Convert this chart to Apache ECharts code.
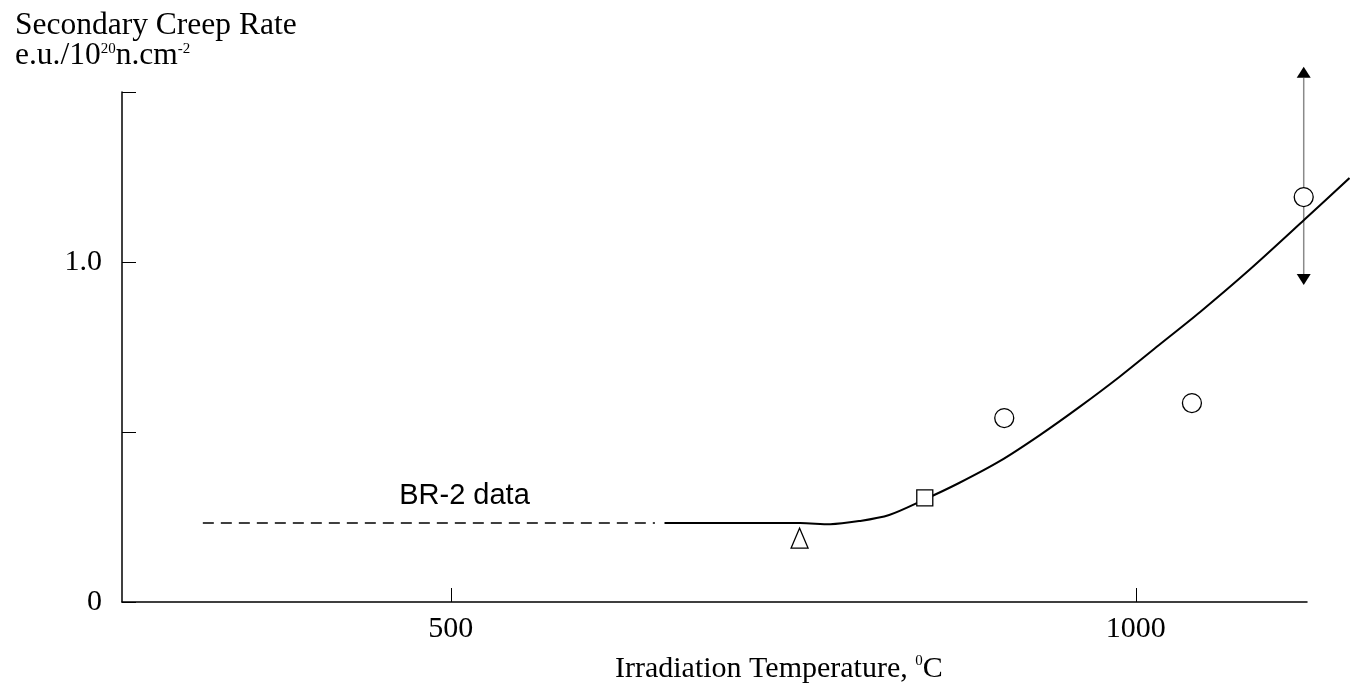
<!DOCTYPE html>
<html>
<head>
<meta charset="utf-8">
<script src="https://cdn.jsdelivr.net/npm/echarts@6/dist/echarts.min.js"></script>
<style>
html,body{margin:0;padding:0;background:#fff;}
#chart{width:1350px;height:688px;}
</style>
</head>
<body>
<div id="chart"></div>
<script>
// ---- data ----
const xTickValues = [500, 1000];
const yTickLabels = {0: '0', 1: '1.0'};
const br2Dashed = [[319, 0.232], [649, 0.232]];
const fitCurve = [
  [656, 0.232], [755, 0.232], [777, 0.229], [798, 0.238], [820, 0.256],
  [845, 0.300], [871, 0.350], [901, 0.415], [930, 0.491], [959, 0.574],
  [988, 0.662], [1017, 0.756], [1047, 0.853], [1083, 0.977], [1123, 1.124],
  [1156, 1.247]
];
const triangleData = [[754.6, 0.188]];
const squareData = [[846, 0.306]];
const circleData = [[904, 0.541], [1041, 0.585], [1122.6, 1.191]];
const errorBar = [[1122.6, 0.932, 1.574]];
const annotations = [[510, 0.312, 'BR-2 data']];

const serif = 'Liberation Serif';
const sans = 'Liberation Sans';

// axis scale
const X_MIN = 260, X_MAX = 1125, Y_MIN = 0, Y_MAX = 1.5;
const W = 1350, GL = 122, GR = 43;
// a second, hidden axis with identical scale that reaches the right edge of the canvas
const X_MAX_WIDE = X_MIN + (W - GL) * (X_MAX - X_MIN) / (W - GL - GR);

const markerStyle = {color: '#fff', borderColor: '#000', borderWidth: 1.3, opacity: 1};

const chart = echarts.init(document.getElementById('chart'), null, {renderer: 'canvas'});
chart.setOption({
  animation: false,
  backgroundColor: '#fff',
  grid: [
    {left: GL, right: GR, top: 92, bottom: 86},
    {left: GL, right: 0, top: 92, bottom: 86}
  ],
  xAxis: [{
    type: 'value', min: X_MIN, max: X_MAX, gridIndex: 0,
    axisLine: {lineStyle: {color: '#000', width: 1.5}},
    axisTick: {show: true, inside: true, length: 14, customValues: xTickValues, lineStyle: {color: '#000', width: 1}},
    axisLabel: {customValues: xTickValues, fontFamily: serif, fontSize: 30, color: '#000', margin: 12,
                formatter: v => String(v)},
    splitLine: {show: false}
  }, {
    type: 'value', min: X_MIN, max: X_MAX_WIDE, gridIndex: 1, show: false
  }],
  yAxis: [{
    type: 'value', min: Y_MIN, max: Y_MAX, interval: 0.5, gridIndex: 0,
    axisLine: {show: true, lineStyle: {color: '#000', width: 1.5}},
    axisTick: {show: true, inside: true, length: 14, lineStyle: {color: '#000', width: 1}},
    axisLabel: {
      fontFamily: serif, fontSize: 30, color: '#000', margin: 20, padding: [6, 0, 0, 0],
      formatter: v => (yTickLabels[v] !== undefined ? yTickLabels[v] : '')
    },
    splitLine: {show: false}
  }, {
    type: 'value', min: Y_MIN, max: Y_MAX, gridIndex: 1, show: false
  }],
  graphic: [
    {type: 'text', left: 15, top: 10, style: {text: 'Secondary Creep Rate', font: '31.5px "Liberation Serif"', fill: '#000'}},
    {type: 'text', left: 15, top: 36, style: {
      text: '{n|e.u./10}{s|20}{n|n.cm}{s|-2}', fill: '#000',
      rich: {
        n: {fontFamily: serif, fontSize: 31.5, lineHeight: 36, verticalAlign: 'bottom'},
        s: {fontFamily: serif, fontSize: 15, lineHeight: 36, verticalAlign: 'top', padding: [6, 0, 0, 0]}
      }
    }},
    {type: 'text', left: 615, top: 648, style: {
      text: '{n|Irradiation Temperature, }{s|0}{n|C}', fill: '#000',
      rich: {
        n: {fontFamily: serif, fontSize: 30, lineHeight: 36, verticalAlign: 'bottom'},
        s: {fontFamily: serif, fontSize: 15, lineHeight: 36, verticalAlign: 'top', padding: [6, 0, 0, 0]}
      }
    }}
  ],
  series: [
    {
      type: 'line', data: br2Dashed, symbol: 'none', clip: false,
      lineStyle: {color: '#000', width: 1.5, type: [11, 7]}, z: 2
    },
    {
      type: 'line', data: fitCurve, symbol: 'none', smooth: 0.3, clip: false,
      xAxisIndex: 1, yAxisIndex: 1,
      lineStyle: {color: '#000', width: 2}, z: 4
    },
    {
      type: 'custom', data: errorBar, clip: false, z: 3,
      renderItem: function (params, api) {
        const top = api.coord([api.value(0), api.value(2)]);
        const bot = api.coord([api.value(0), api.value(1)]);
        const hw = 7, ah = 11;
        return {
          type: 'group',
          children: [
            {type: 'line', shape: {x1: top[0], y1: top[1] + ah, x2: bot[0], y2: bot[1] - ah},
             style: {stroke: '#8a8a8a', lineWidth: 1.5}},
            {type: 'polygon', shape: {points: [[top[0], top[1]], [top[0] - hw, top[1] + ah], [top[0] + hw, top[1] + ah]]},
             style: {fill: '#000'}},
            {type: 'polygon', shape: {points: [[bot[0], bot[1]], [bot[0] - hw, bot[1] - ah], [bot[0] + hw, bot[1] - ah]]},
             style: {fill: '#000'}}
          ]
        };
      }
    },
    {
      type: 'scatter', data: circleData, symbol: 'circle', symbolSize: 19, z: 5, clip: false,
      itemStyle: markerStyle
    },
    {
      type: 'scatter', data: squareData, symbol: 'rect', symbolSize: 16, z: 5,
      itemStyle: markerStyle
    },
    {
      type: 'scatter', data: triangleData, symbol: 'triangle', symbolSize: [17, 20], z: 5,
      itemStyle: markerStyle
    },
    {
      type: 'scatter', data: annotations, symbol: 'circle', symbolSize: 1, z: 5,
      itemStyle: {color: 'rgba(0,0,0,0)', opacity: 1},
      label: {show: true, position: 'inside', formatter: p => p.value[2],
              fontFamily: sans, fontSize: 29, color: '#000', opacity: 1,
              textBorderWidth: 0}
    }
  ]
});
</script>
</body>
</html>
